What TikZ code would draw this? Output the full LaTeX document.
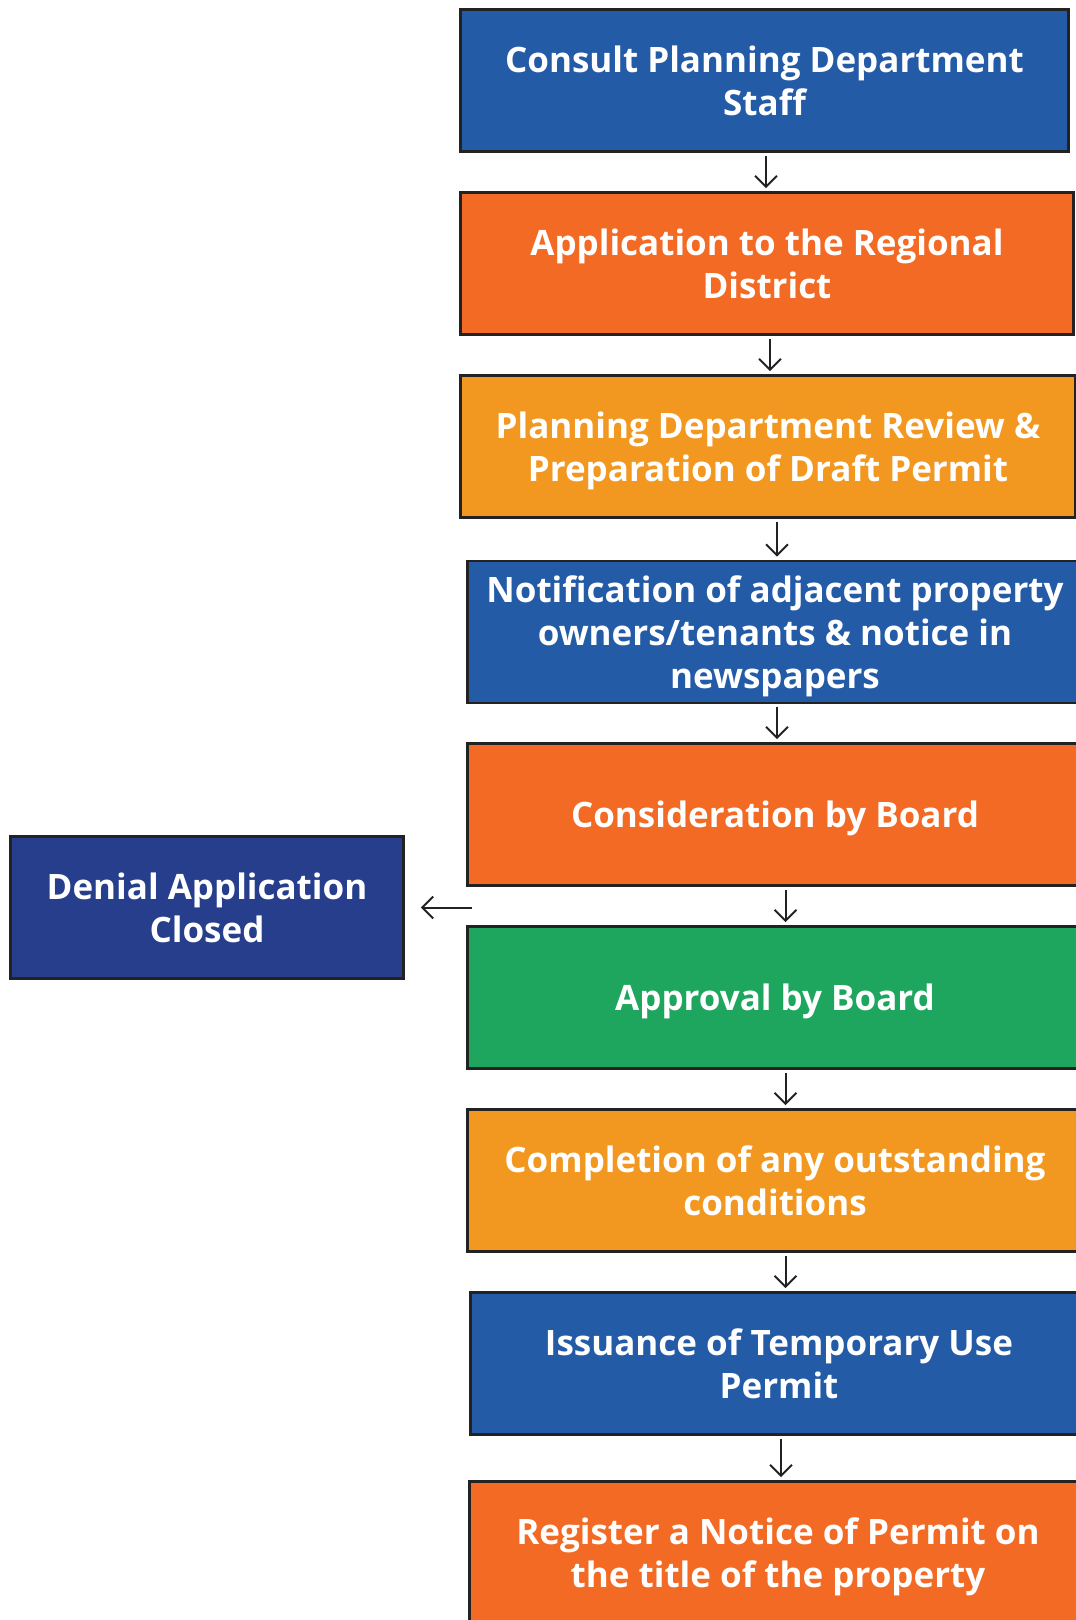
\documentclass[tikz,border=0pt]{standalone}
\usepackage{fontspec}
\setmainfont{Open Sans}
\usepackage{tikz}
\usetikzlibrary{arrows.meta}
\usetikzlibrary{positioning}
\definecolor{stepBlue}{RGB}{36,91,167}
\definecolor{stepOrange}{RGB}{242,106,36}
\definecolor{stepAmber}{RGB}{242,152,33}
\definecolor{stepGreen}{RGB}{30,166,94}
\definecolor{stepNavy}{RGB}{38,62,140}
\definecolor{boxEdge}{RGB}{34,34,34}
\tikzstyle{stepbox} = [draw=boxEdge,line width=2.6pt,minimum height=142pt,inner sep=0pt,text depth=0pt,text=white,align=center,font=\bfseries\fontsize{35}{43}\selectfont]
\tikzstyle{arrow} = [line width=2pt,draw=boxEdge,-{Straight Barb[length=11pt,width=22pt,line width=2pt]}]

\begin{document}
\begin{tikzpicture}[x=1pt,y=-1pt]

    \useasboundingbox (0,0) rectangle (1076,1620);
    \clip (0,0) rectangle (1076,1620); % boxes run past the page edge

  \node[stepbox,fill=stepBlue,minimum width=608pt] (consult) at (764.5,80.5) {Consult Planning Department\\Staff};
  \node[stepbox,fill=stepOrange,minimum width=613pt] (apply) at (767,263.5) {Application to the Regional\\District};
  \node[stepbox,fill=stepAmber,minimum width=615pt] (review) at (768,446.5) {Planning Department Review \&\\Preparation of Draft Permit};
  \node[stepbox,fill=stepBlue,minimum width=615pt] (notify) at (775,632) {Notification of adjacent property\\owners/tenants \& notice in\\newspapers};
  \node[stepbox,fill=stepOrange,minimum width=615pt] (consider) at (775,814.5) {Consideration by Board};
  \node[stepbox,fill=stepGreen,minimum width=615pt] (approve) at (775,997.5) {Approval by Board};
  \node[stepbox,fill=stepAmber,minimum width=615pt] (complete) at (775,1180.5) {Completion of any outstanding\\conditions};
  \node[stepbox,fill=stepBlue,minimum width=617pt] (issue) at (779,1363.5) {Issuance of Temporary Use\\Permit};
  \node[stepbox,fill=stepOrange,minimum width=617pt] (register) at (778,1552.5) {Register a Notice of Permit on\\the title of the property};

  \node[stepbox,fill=stepNavy,minimum width=393pt] (denial) at (207,907.5) {Denial Application\\Closed};

    \foreach \a/\b/\dx in {consult/apply/1.5,apply/review/3,review/notify/9,notify/consider/2,
                           consider/approve/10.5,approve/complete/10.5,complete/issue/10.5,issue/register/2}{
      \coordinate (top) at ([xshift=\dx pt]\a.south);
      \draw[arrow,shorten <=3pt,shorten >=3pt] (top) -- (top |- \b.north);
    }

    \coordinate (split) at (472,907.5);
    \draw[arrow,shorten >=16pt] (split) -- (denial);

\end{tikzpicture}
\end{document}
